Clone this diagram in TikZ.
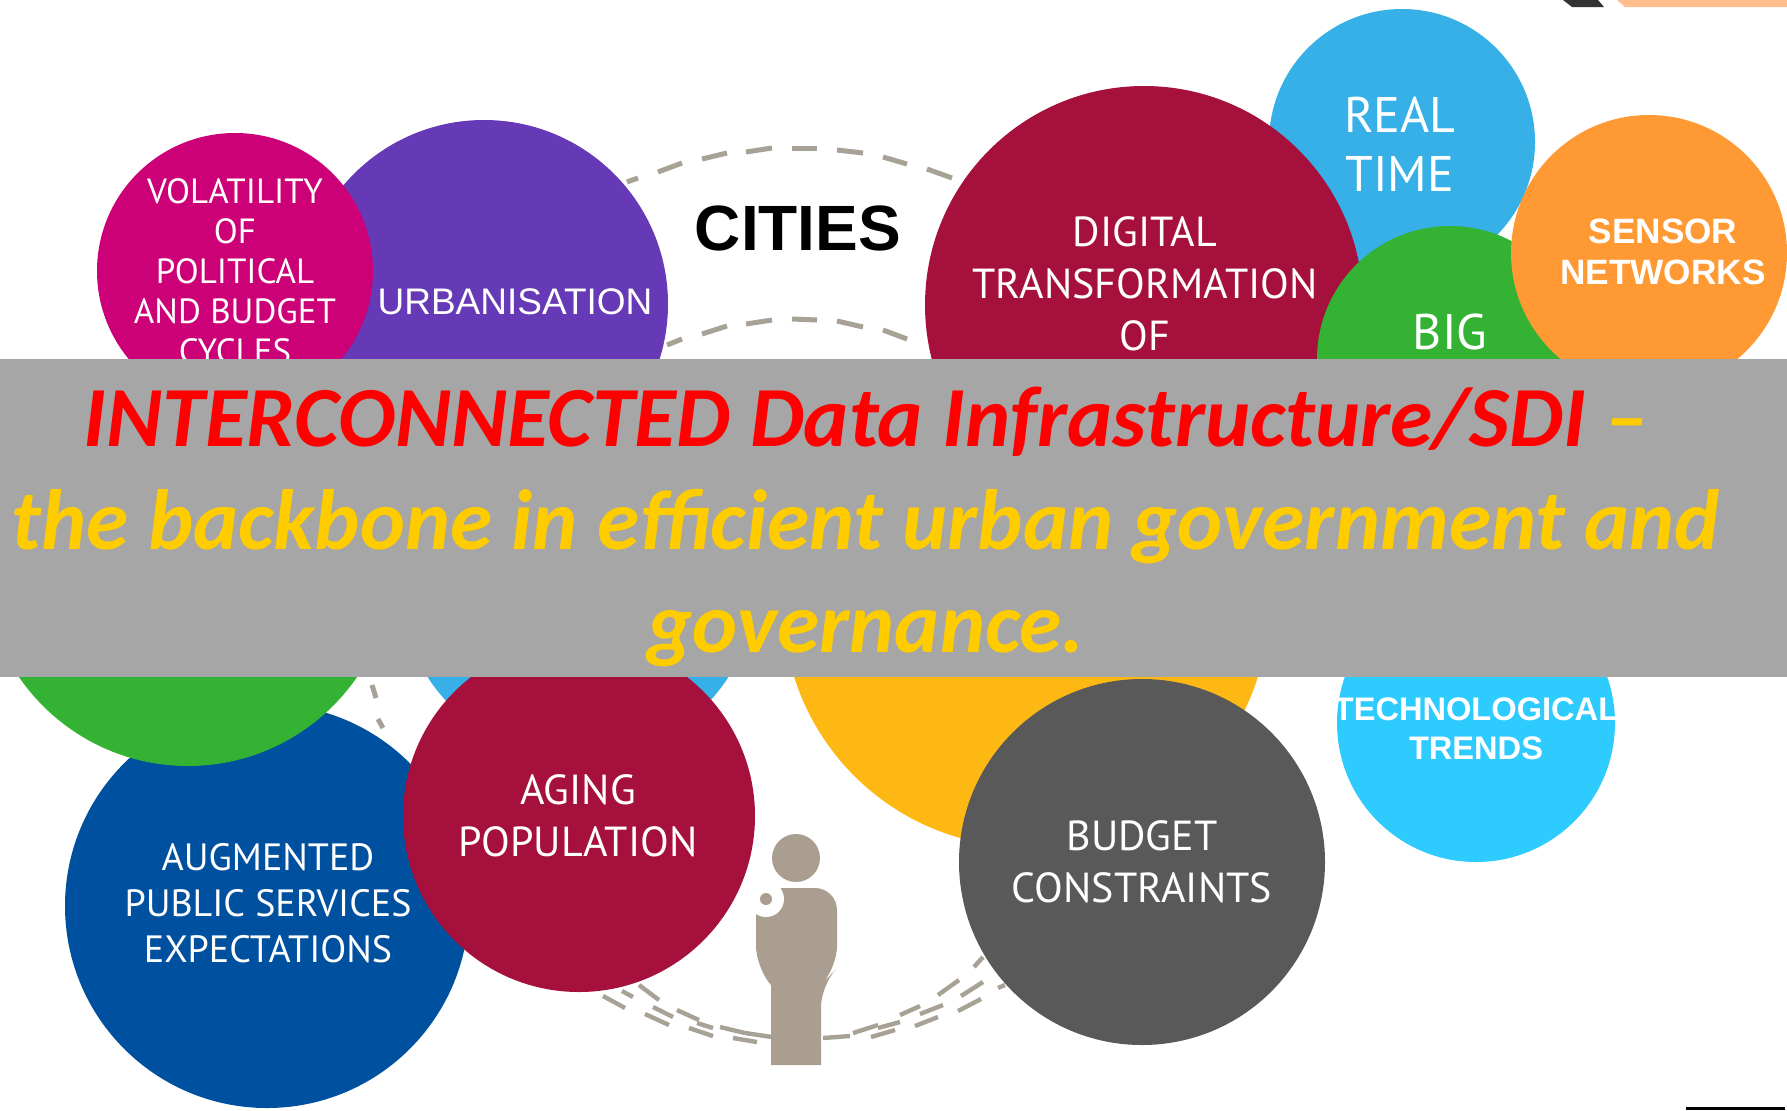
\documentclass[tikz,border=0pt]{standalone}
\usepackage{fontspec}
\setmainfont{Liberation Sans}
\newfontfamily\ballfont{PT Sans}
\newfontfamily\bandfont{Carlito}
\definecolor{bandgrey}{HTML}{A6A6A6}
\definecolor{dashgrey}{HTML}{A8A196}
\definecolor{persongrey}{HTML}{A99E90}
\definecolor{crimson}{HTML}{A5113C}
\definecolor{gold}{HTML}{FFCC00}
\definecolor{ballgreen}{HTML}{34B233}
\definecolor{ballpurple}{HTML}{6639B6}
\definecolor{ballblue}{HTML}{36B0E6}
\definecolor{ballyellow}{HTML}{FDB813}
\definecolor{ballnavy}{HTML}{0050A0}
\definecolor{ballmagenta}{HTML}{CC0077}
\definecolor{ballorange}{HTML}{FF9933}
\definecolor{balldark}{HTML}{595959}
\definecolor{ballcyan}{HTML}{2ECBFF}
\definecolor{peach}{HTML}{FFBE8C}
\begin{document}
\begin{tikzpicture}[x=0.5pt,y=-0.5pt,
        ball/.style={circle,inner sep=0pt,fill=#1},
        balltext/.style={font=\ballfont\fontsize{21}{26}\selectfont,text=white,align=center,inner sep=0pt},
        whitetext/.style={font=\fontsize{18.5}{19.5}\selectfont,text=white,align=center,inner sep=0pt},
        ring/.style={draw=dashgrey,line width=2.5pt},
        thinring/.style={draw=dashgrey,line width=2.2pt}]
    \useasboundingbox (0,0) rectangle (1787,1110);

    % dashed rings, top
    \foreach \xa/\ya/\xb/\yb in {627/182/638/178,658/172/682/163,702/159/727/153,746/152/772/148,792/148/817/148,
            837/150/863/153,883/157/907/164,927/169/952/178,
            667/345/682/339,702/334/727/326,746/324/772/320,792/319/817/320,837/321/863/327,883/330/907/339,
            372/685/376/698,378/719/383/728}
        \draw[ring] (\xa,\ya) -- (\xb,\yb);
    % dashed rings, bottom
    \foreach \xa/\ya/\xb/\yb in {603/996/625/1008,622/991/633/997,639/985/659/1000,653/1007/673/1017,645/1014/669/1025,
            677/1010/699/1020,689/1028/713/1036,697/1023/713/1028,720/1027/745/1033,733/1038/757/1042,745/1033/772/1037,
            823/1038/850/1036,853/1033/878/1025,871/1037/895/1030,878/1028/900/1022,900/1015/920/1006,915/1026/938/1017,
            920/1014/943/1005,938/995/959/980,961/996/983/982,958/1011/981/999,974/967/983/957,998/988/1005/985}
        \draw[thinring] (\xa,\ya) -- (\xb,\yb);

    % back row
    \node[ball=ballpurple,minimum size=184pt] (urban) at (484,304) {};
    \node[ball=ballblue,minimum size=133pt] (realtime) at (1402,142) {};
    \node[ball=ballblue,minimum size=179pt] (hiddenblue) at (578,580) {};
    \node[ball=ballyellow,minimum size=243pt] (yellow) at (1026,604) {};
    \node[ball=ballnavy,minimum size=202pt] (augmented) at (267,906) {};
    \node[ball=ballgreen,minimum size=205pt] (leftgreen) at (188,561) {};

    % front row
    \node[ball=ballmagenta,minimum size=138pt] (volatility) at (235,271) {};
    \node[ball=crimson,minimum size=219pt] (digital) at (1144,305) {};
    \node[ball=ballgreen,minimum size=133pt] (big) at (1450,359) {};
    \node[ball=ballorange,minimum size=138pt] (sensor) at (1649,253) {};
    \node[ball=crimson,minimum size=176pt] (aging) at (579,816) {};
    \node[ball=balldark,minimum size=183pt] (budget) at (1142,862) {};
    \node[ball=ballcyan,minimum size=139pt] (techno) at (1476,723) {};

    % person
    \fill[persongrey] (796,858) circle (24);
    \fill[persongrey,rounded corners=11pt] (756,925) -- (756,888) -- (837,888) -- (837,968) -- (821,985)
        [sharp corners] -- (821,1065) -- (771,1065) -- (771,985) [rounded corners=11pt] -- (756,968) -- cycle;
    \fill[white] (766,899) circle (18);
    \fill[persongrey] (766,899) circle (6);

    % labels in the balls
    \node[balltext,font=\ballfont\fontsize{17.5}{20}\selectfont] (volatilitytext) at (235,271) {VOLATILITY\\OF\\POLITICAL\\AND BUDGET\\CYCLES};
    \node[whitetext] (urbantext) at (515,302) {URBANISATION};
    \node[balltext] (digitaltext) at (1145,284) {DIGITAL\\TRANSFORMATION\\OF};
    \node[balltext,font=\ballfont\fontsize{25}{29.5}\selectfont] (realtimetext) at (1400,144) {REAL\\TIME};
    \node[balltext,font=\ballfont\fontsize{25}{29}\selectfont] (bigtext) at (1450,332) {BIG};
    \node[whitetext,font=\bfseries\fontsize{17.6}{20.5}\selectfont] (sensortext) at (1663,252) {SENSOR\\NETWORKS};
    \node[whitetext,font=\bfseries\fontsize{16.3}{19.5}\selectfont] (technotext) at (1476,729) {TECHNOLOGICAL\\TRENDS};
    \node[balltext,font=\ballfont\fontsize{19}{23}\selectfont] (augmentedtext) at (268,903) {AUGMENTED\\PUBLIC SERVICES\\EXPECTATIONS};
    \node[balltext] (agingtext) at (578,816) {AGING\\POPULATION};
    \node[balltext] (budgettext) at (1142,862) {BUDGET\\CONSTRAINTS};
    \node[inner sep=0pt,font=\bfseries\fontsize{32}{36}\selectfont] (cities) at (798,228) {CITIES};

    % grey band
    \node[fill=bandgrey,inner sep=0pt,minimum width=893.5pt,minimum height=159pt] (band) at (893.5,518) {};
    \node[inner sep=0pt,align=center,font=\bandfont\bfseries\itshape\fontsize{42.8}{51.3}\selectfont,text=gold] (bandtext) at (866,527)
        {\textcolor{red}{INTERCONNECTED Data Infrastructure/SDI} –\\the backbone in efficient urban government and\\governance.};

    % bits at the page edges
    \fill[black!80] (1563,0) -- (1598,0) -- (1604,7) -- (1572,7) -- cycle;
    \fill[peach] (1617,0) -- (1787,0) -- (1787,7) -- (1625,7) -- cycle;
    \fill[black] (1686,1107) rectangle (1785,1110);
\end{tikzpicture}
\end{document}
